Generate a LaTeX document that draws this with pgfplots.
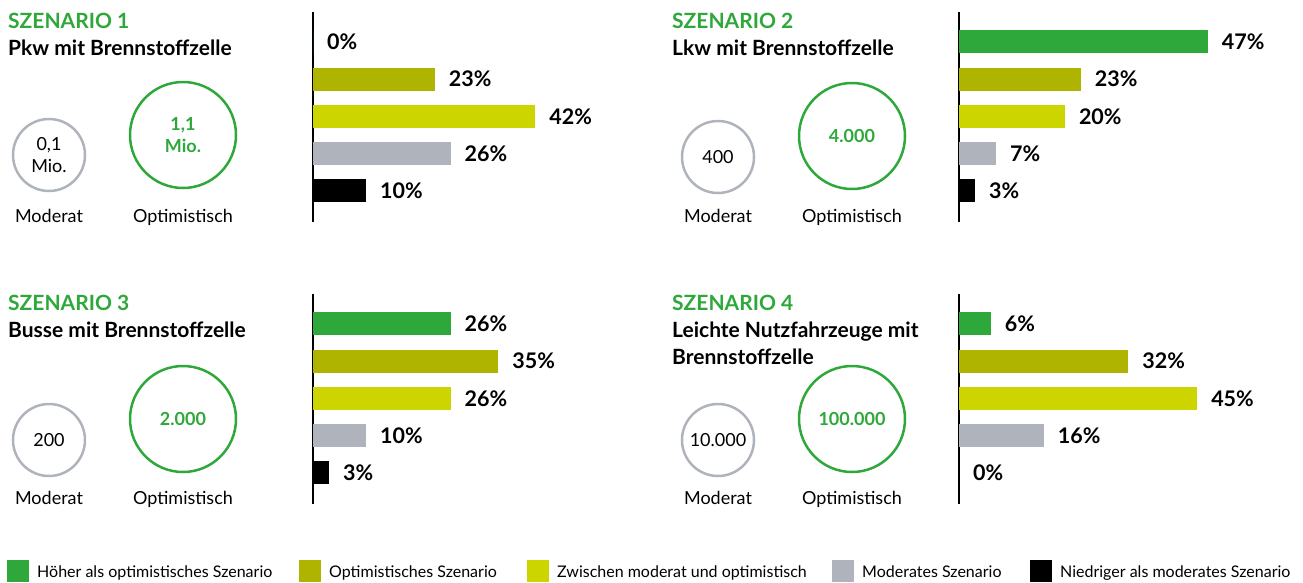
\documentclass[border=0pt]{standalone}
\usepackage{fontspec}
\setmainfont{Lato}
\usepackage{pgfplots}
\pgfplotsset{compat=1.18}
\definecolor{cGreen}{RGB}{46,168,58}
\definecolor{cOlive}{RGB}{174,180,0}
\definecolor{cLime}{RGB}{204,213,0}
\definecolor{cGray}{RGB}{175,180,188}
\definecolor{cBlack}{RGB}{0,0,0}
\newcommand{\titlefont}{\fontsize{21}{25}\selectfont\bfseries}
\newcommand{\circfont}{\fontsize{18}{22}\selectfont}
\newcommand{\legfont}{\fontsize{16}{19}\selectfont}
\pgfplotsset{panel/.style={
  xbar, bar shift=0pt, bar width=23pt,
  x=5.29pt, y=37.25pt, y dir=reverse,
  xmin=0, xmax=60, ymin=-0.8, ymax=4.83,
  axis x line=none, axis y line*=left,
  ytick=\empty, xtick=\empty, clip=false, anchor=north west,
  axis line style={line width=1.3pt, black},
  point meta=x,
  nodes near coords={\pgfmathprintnumber{\pgfplotspointmeta}\%},
  nodes near coords style={anchor=west, font=\fontsize{21.5}{25}\selectfont\bfseries, inner sep=0pt, xshift=14pt, text=black},
  /pgf/number format/assume math mode=true,
  every axis plot/.append style={draw=none},
}}
\begin{document}
\begin{tikzpicture}
% invisible frame
\path (0pt,0pt) rectangle (1303pt,-582pt);
\tikzset{ttl/.style={anchor=base west, inner sep=0pt, font=\titlefont}}
% ---------- Panel 1 ----------
\node[ttl, text=cGreen] at (8pt,-28pt) {SZENARIO 1};
\node[ttl] at (8pt,-55pt) {Pkw mit Brennstoffzelle};
\draw[cGray, line width=2.5pt] (49pt,-155pt) circle (36pt);
\draw[cGreen, line width=2.5pt] (183pt,-135pt) circle (53pt);
\node[align=center, font=\circfont] at (49pt,-155pt) {0,1\\Mio.};
\node[align=center, font=\circfont\bfseries, text=cGreen] at (183pt,-135pt) {1,1\\Mio.};
\node[anchor=base, font=\circfont] at (49pt,-222pt) {Moderat};
\node[anchor=base, font=\circfont] at (183pt,-222pt) {Optimistisch};
\begin{axis}[panel, at={(313pt,-12pt)}]
\addplot[fill=cGreen] coordinates {(0,0)};
\addplot[fill=cOlive] coordinates {(23,1)};
\addplot[fill=cLime] coordinates {(42,2)};
\addplot[fill=cGray] coordinates {(26,3)};
\addplot[fill=cBlack] coordinates {(10,4)};
\end{axis}
% ---------- Panel 2 ----------
\node[ttl, text=cGreen] at (672pt,-28pt) {SZENARIO 2};
\node[ttl] at (672pt,-55pt) {Lkw mit Brennstoffzelle};
\draw[cGray, line width=2.5pt] (718pt,-157pt) circle (36pt);
\draw[cGreen, line width=2.5pt] (852pt,-136pt) circle (53pt);
\node[align=center, font=\circfont] at (718pt,-157pt) {400};
\node[align=center, font=\circfont\bfseries, text=cGreen] at (852pt,-136pt) {4.000};
\node[anchor=base, font=\circfont] at (718pt,-222pt) {Moderat};
\node[anchor=base, font=\circfont] at (852pt,-222pt) {Optimistisch};
\begin{axis}[panel, at={(959pt,-12pt)}]
\addplot[fill=cGreen] coordinates {(47,0)};
\addplot[fill=cOlive] coordinates {(23,1)};
\addplot[fill=cLime] coordinates {(20,2)};
\addplot[fill=cGray] coordinates {(7,3)};
\addplot[fill=cBlack] coordinates {(3,4)};
\end{axis}
% ---------- Panel 3 ----------
\node[ttl, text=cGreen] at (8pt,-310pt) {SZENARIO 3};
\node[ttl] at (8pt,-337pt) {Busse mit Brennstoffzelle};
\draw[cGray, line width=2.5pt] (49pt,-440pt) circle (36pt);
\draw[cGreen, line width=2.5pt] (183pt,-419pt) circle (53pt);
\node[align=center, font=\circfont] at (49pt,-440pt) {200};
\node[align=center, font=\circfont\bfseries, text=cGreen] at (183pt,-419pt) {2.000};
\node[anchor=base, font=\circfont] at (49pt,-504pt) {Moderat};
\node[anchor=base, font=\circfont] at (183pt,-504pt) {Optimistisch};
\begin{axis}[panel, at={(313pt,-294pt)}]
\addplot[fill=cGreen] coordinates {(26,0)};
\addplot[fill=cOlive] coordinates {(35,1)};
\addplot[fill=cLime] coordinates {(26,2)};
\addplot[fill=cGray] coordinates {(10,3)};
\addplot[fill=cBlack] coordinates {(3,4)};
\end{axis}
% ---------- Panel 4 ----------
\node[ttl, text=cGreen] at (672pt,-310pt) {SZENARIO 4};
\node[ttl] at (672pt,-337pt) {Leichte Nutzfahrzeuge mit};
\node[ttl] at (672pt,-364pt) {Brennstoffzelle};
\draw[cGray, line width=2.5pt] (718pt,-440pt) circle (36pt);
\draw[cGreen, line width=2.5pt] (852pt,-419pt) circle (53pt);
\node[align=center, font=\circfont] at (718pt,-440pt) {10.000};
\node[align=center, font=\circfont\bfseries, text=cGreen] at (852pt,-419pt) {100.000};
\node[anchor=base, font=\circfont] at (718pt,-504pt) {Moderat};
\node[anchor=base, font=\circfont] at (852pt,-504pt) {Optimistisch};
\begin{axis}[panel, at={(959pt,-294pt)}]
\addplot[fill=cGreen] coordinates {(6,0)};
\addplot[fill=cOlive] coordinates {(32,1)};
\addplot[fill=cLime] coordinates {(45,2)};
\addplot[fill=cGray] coordinates {(16,3)};
\addplot[fill=cBlack] coordinates {(0,4)};
\end{axis}
% ---------- Legend ----------
\fill[cGreen] (7pt,-560pt) rectangle (29pt,-582pt);
\node[anchor=base west, font=\legfont, inner sep=0pt] at (37pt,-577pt) {Höher als optimistisches Szenario};
\fill[cOlive] (299pt,-560pt) rectangle (321pt,-582pt);
\node[anchor=base west, font=\legfont, inner sep=0pt] at (329pt,-577pt) {Optimistisches Szenario};
\fill[cLime] (527pt,-560pt) rectangle (549pt,-582pt);
\node[anchor=base west, font=\legfont, inner sep=0pt] at (557pt,-577pt) {Zwischen moderat und optimistisch};
\fill[cGray] (832pt,-560pt) rectangle (854pt,-582pt);
\node[anchor=base west, font=\legfont, inner sep=0pt] at (862pt,-577pt) {Moderates Szenario};
\fill[cBlack] (1030pt,-560pt) rectangle (1052pt,-582pt);
\node[anchor=base west, font=\legfont, inner sep=0pt] at (1060pt,-577pt) {Niedriger als moderates Szenario};
\end{tikzpicture}
\end{document}
